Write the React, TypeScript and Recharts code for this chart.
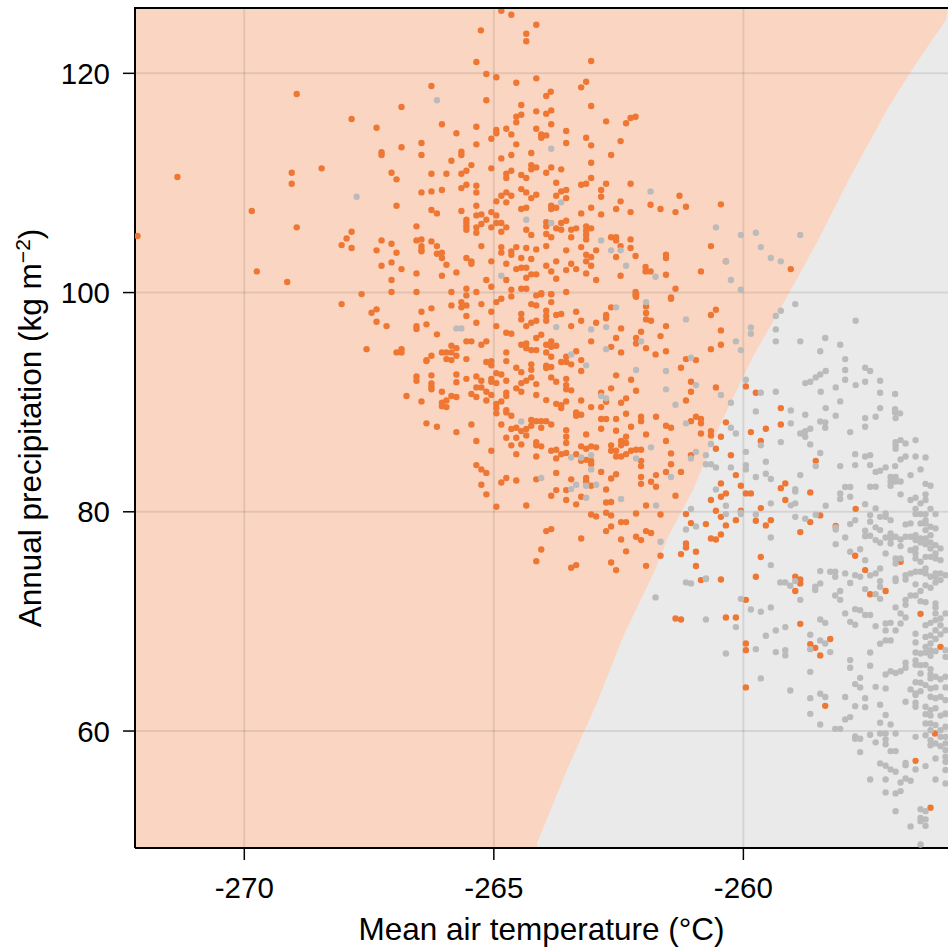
import React from "react"
import {
  ComposedChart,
  XAxis,
  YAxis,
  Scatter,
  Area,
  ReferenceLine,
  CartesianGrid,
} from "recharts"

// Temperature (°C) / precipitation (kg m-2) pairs

const xTicks = [-270, -265, -260]
const yTicks = [60, 80, 100, 120]
const xDomain: [number, number] = [-272.19, -255.9]
const yDomain: [number, number] = [49.33, 125.96]

// class boundary of the grey region (lower-right), read along its edge
const boundary: [number, number][] = [
  [-264.13, 49.8], [-263.53, 56.5], [-262.93, 62.6], [-262.41, 68.6], [-261.77, 74.7],
  [-261.51, 77.7], [-261.01, 81.99], [-260.45, 88.1], [-259.81, 94.12], [-259.05, 100.23],
  [-258.51, 104.7], [-257.84, 110.72], [-257.1, 116.83], [-256.56, 120.76], [-255.94, 124.86],
  [-255.9, 125.96],
]

const orangeNorthWest: [number, number][] = [
  [-268.95, 118.11], [-266.85, 116.93], [-267.85, 115.83], [-267.35, 115.04], [-266.85, 113.25],
  [-267.25, 112.8], [-267.25, 112.55], [-271.34, 110.54], [-269.05, 110.93], [-269.05, 109.93],
  [-268.45, 111.33], [-267.05, 110.93], [-266.95, 110.33], [-266.95, 107.92], [-269.85, 107.44],
  [-268.95, 105.95], [-272.14, 105.16], [-267.85, 105.55], [-267.95, 104.94], [-268.05, 104.33],
  [-267.85, 104.06], [-267.25, 104.76], [-267.05, 104.45], [-267.35, 103.85], [-266.95, 103.63],
  [-267.25, 102.44], [-267.05, 102.75], [-266.85, 102.14], [-269.75, 101.93], [-269.14, 100.96],
  [-267.65, 99.86], [-267.05, 101.14], [-267.05, 100.05], [-268.05, 98.95], [-267.35, 98.47],
  [-267.45, 98.16], [-267.35, 97.34], [-267.15, 96.94], [-267.55, 94.84], [-266.95, 94.54],
  [-266.85, 94.84], [-266.85, 94.54],
]

const orangeNorth: [number, number][] = [
  [-264.85, 125.71], [-264.65, 125.35], [-265.26, 123.92], [-264.35, 123.61], [-264.35, 122.92],
  [-264.15, 124.43], [-265.35, 121.03], [-263.05, 121.12], [-265.15, 119.94], [-264.95, 119.64],
  [-266.25, 118.84], [-264.55, 119.14], [-264.15, 119.54], [-263.25, 118.72], [-263.15, 119.23],
  [-263.95, 117.93], [-263.86, 118.32], [-265.15, 117.54], [-263.05, 117.02], [-264.45, 117.11],
  [-264.55, 116.04], [-264.45, 116.22], [-264.55, 115.53], [-264.15, 116.53], [-263.95, 116.31],
  [-263.85, 116.62], [-263.85, 115.35], [-264.15, 114.95], [-262.75, 115.62], [-262.35, 115.44],
  [-262.26, 115.92], [-262.16, 116.04], [-266.04, 115.35], [-265.35, 115.13], [-265.75, 114.53],
  [-264.95, 114.83], [-264.95, 114.53], [-264.75, 114.95], [-264.65, 114.43], [-265.05, 114.03],
  [-264.05, 114.43], [-264.05, 114.12], [-263.95, 114.34], [-263.55, 114.74], [-263.55, 113.64],
  [-263.15, 114.12], [-263.05, 113.43], [-262.46, 113.82], [-262.65, 112.55], [-266.45, 113.64],
  [-266.45, 112.55], [-265.35, 113.52], [-264.55, 113.52], [-265.65, 112.85], [-265.65, 112.55],
  [-265.85, 112.03], [-265.45, 111.63], [-264.85, 112.24], [-264.65, 112.55], [-264.25, 112.73],
  [-264.25, 111.63], [-264.15, 111.42], [-264.25, 111.24], [-263.95, 110.93], [-263.85, 111.42],
  [-263.65, 111.24], [-263.05, 111.84], [-266.25, 110.84], [-265.95, 110.84], [-265.65, 110.84],
  [-265.55, 111.11], [-265.05, 111.33], [-264.75, 110.84], [-264.75, 110.45], [-264.65, 111.11],
  [-264.45, 110.72], [-264.35, 110.45], [-263.75, 110.02], [-263.25, 109.84], [-263.15, 109.93],
  [-263.05, 110.45], [-262.75, 109.93], [-262.26, 109.93], [-266.45, 109.14], [-266.25, 109.23],
  [-266.04, 109.35], [-265.65, 109.53], [-265.55, 109.84], [-265.35, 109.74], [-265.35, 109.14],
  [-264.85, 108.83], [-264.75, 109.14], [-264.65, 108.83], [-264.95, 108.32], [-264.75, 108.23],
  [-264.45, 109.44], [-264.35, 109.14], [-264.25, 108.62], [-264.15, 108.92], [-263.75, 108.83],
  [-263.65, 109.23], [-263.55, 109.35], [-263.55, 108.62], [-262.85, 109.35], [-262.85, 108.74],
  [-262.46, 108.32], [-261.86, 108.01], [-261.66, 107.62], [-261.36, 107.34], [-261.28, 108.83],
  [-262.26, 107.34], [-262.85, 107.13], [-262.55, 107.62], [-263.05, 107.74], [-263.25, 107.22],
  [-266.25, 107.53], [-266.14, 107.22], [-265.65, 107.44], [-265.35, 107.92], [-265.35, 107.04],
  [-265.25, 107.13], [-265.05, 107.34], [-264.95, 107.04], [-264.45, 107.62], [-264.35, 107.74],
  [-263.85, 107.92], [-263.85, 107.62], [-263.75, 107.74], [-265.55, 106.64], [-265.55, 106.34],
  [-265.55, 106.04], [-265.55, 105.73], [-265.25, 106.25], [-265.15, 106.64], [-265.35, 105.95],
  [-265.35, 105.46], [-265.05, 105.95], [-264.95, 106.34], [-264.85, 106.34], [-264.85, 105.55],
  [-264.75, 105.95], [-264.35, 105.73], [-264.25, 105.25], [-263.95, 106.43], [-263.95, 106.04],
  [-263.95, 105.34], [-263.85, 105.04], [-263.75, 105.86], [-263.65, 105.73], [-263.65, 106.34],
  [-263.55, 106.55], [-263.45, 105.73], [-263.35, 105.86], [-263.15, 106.04], [-263.15, 105.64],
  [-263.15, 105.25], [-263.15, 104.85], [-263.05, 105.86], [-263.45, 105.04], [-262.65, 105.04],
  [-262.55, 105.04], [-262.55, 104.76], [-262.26, 104.85], [-262.55, 103.24], [-262.46, 104.24],
  [-262.26, 104.06], [-262.16, 103.33], [-262.46, 101.53], [-261.96, 102.33], [-261.96, 101.93],
  [-261.86, 101.93], [-261.55, 103.45], [-261.55, 103.15], [-261.55, 101.62], [-262.16, 100.05],
  [-262.16, 99.74], [-261.36, 100.35], [-262.95, 101.14], [-263.25, 104.15], [-263.15, 103.45],
  [-263.15, 102.85], [-263.05, 103.24], [-263.05, 102.44], [-262.95, 103.85], [-263.55, 103.85],
  [-263.55, 102.05], [-263.45, 102.63], [-263.35, 102.14], [-263.15, 101.75], [-263.75, 102.85],
  [-263.95, 104.24], [-263.95, 102.44], [-263.85, 101.93], [-263.75, 101.26], [-264.15, 103.94],
  [-264.25, 103.06], [-264.25, 101.66], [-264.15, 101.66], [-264.35, 104.06], [-264.45, 103.15],
  [-264.55, 104.15], [-264.55, 102.14], [-264.45, 102.27], [-264.35, 102.27], [-264.35, 101.35],
  [-264.65, 103.76], [-264.65, 103.45], [-264.75, 102.63], [-264.85, 104.15], [-264.85, 103.64],
  [-264.75, 101.14], [-265.05, 102.85], [-265.05, 100.53], [-265.15, 101.14], [-265.25, 104.24],
  [-265.55, 103.15], [-265.45, 102.85], [-265.45, 102.63], [-265.75, 101.84], [-266.04, 101.53],
  [-265.95, 102.54], [-266.14, 104.24], [-266.14, 103.54], [-266.04, 103.64], [-266.04, 103.15],
  [-266.25, 104.67], [-266.45, 104.24], [-266.45, 103.94], [-266.45, 103.76], [-266.55, 104.76],
  [-266.45, 104.85], [-266.55, 106.04], [-266.55, 101.75], [-266.55, 100.05], [-265.85, 100.05],
  [-265.55, 100.35], [-265.55, 99.74], [-265.35, 100.05], [-264.65, 100.26], [-264.65, 99.65],
  [-264.45, 100.35], [-264.35, 100.35], [-264.15, 99.74], [-264.05, 99.95], [-263.85, 99.86],
  [-263.55, 100.05], [-261.15, 107.83], [-260.45, 108.05], [-260.65, 104.24], [-259.05, 102.14],
  [-260.35, 102.85], [-260.85, 101.93], [-261.45, 99.56],
]

const orangeCentre: [number, number][] = [
  [-266.45, 98.25], [-266.25, 98.56], [-265.85, 98.83], [-265.65, 99.13], [-265.55, 98.83],
  [-265.65, 98.65], [-265.55, 97.86], [-265.25, 98.95], [-265.05, 98.25], [-264.95, 99.13],
  [-264.85, 99.44], [-266.55, 96.94], [-266.55, 96.67], [-266.35, 97.1], [-266.14, 96.19],
  [-265.35, 97.25], [-264.95, 96.94], [-264.75, 96.33], [-264.65, 96.24], [-264.45, 98.04],
  [-264.45, 97.55], [-264.35, 96.94], [-264.25, 97.25], [-264.15, 97.43], [-264.25, 98.95],
  [-264.15, 98.83], [-264.05, 99.84], [-263.85, 99.84], [-263.85, 99.13], [-263.95, 98.34],
  [-263.95, 97.86], [-263.95, 97.43], [-263.75, 97.95], [-263.65, 98.04], [-263.35, 98.25],
  [-263.25, 97.43], [-263.45, 96.94], [-262.95, 97.25], [-262.75, 97.95], [-262.75, 97.65],
  [-262.65, 98.65], [-262.45, 96.73], [-262.55, 95.85], [-263.05, 95.55], [-262.65, 95.05],
  [-262.45, 94.54], [-262.15, 99.84], [-262.15, 99.62], [-261.95, 98.74], [-261.95, 98.13],
  [-261.95, 97.55], [-261.85, 97.43], [-262.05, 96.42], [-262.15, 95.85], [-262.15, 95.36],
  [-261.95, 94.93], [-261.76, 94.36], [-261.55, 96.94], [-261.66, 96.03], [-261.55, 94.64],
  [-262.55, 92.45], [-262.25, 92.04], [-262.15, 91.04], [-262.35, 90.35], [-262.45, 89.95],
  [-262.85, 90.86], [-262.65, 91.26], [-262.75, 90.04], [-262.85, 89.55], [-263.05, 89.55],
  [-263.25, 90.16], [-263.55, 91.17], [-263.45, 91.08], [-263.55, 92.13], [-263.55, 91.56],
  [-263.65, 89.73], [-263.65, 89.46], [-263.75, 89.85], [-263.35, 89.07], [-263.25, 88.85],
  [-263.35, 88.76], [-263.55, 90.07], [-263.85, 92.26], [-263.75, 91.86], [-263.95, 93.33],
  [-263.85, 93.21], [-263.95, 93.12], [-264.15, 91.65], [-264.25, 92.26], [-264.25, 92.96],
  [-264.25, 93.45], [-264.45, 92.74], [-264.55, 93.14], [-264.45, 91.74], [-264.55, 91.26],
  [-264.45, 90.95], [-264.75, 91.95], [-264.75, 90.86], [-264.75, 90.56], [-264.95, 92.65],
  [-264.85, 92.53], [-265.05, 93.75], [-265.05, 93.36], [-265.15, 93.66], [-264.75, 93.75],
  [-264.75, 94.54], [-265.05, 92.13], [-264.95, 91.74], [-265.05, 91.86], [-265.15, 90.16],
  [-265.05, 90.65], [-264.95, 89.85], [-264.95, 89.46], [-264.85, 90.07], [-264.95, 88.98],
  [-264.75, 89.28], [-264.75, 89.07], [-264.65, 88.76], [-264.25, 88.37], [-264.15, 88.27],
  [-264.05, 88.27], [-263.95, 88.27], [-264.25, 87.85], [-264.05, 87.67], [-263.85, 87.97],
  [-264.85, 87.97], [-264.65, 87.55], [-264.55, 87.67], [-264.45, 87.36], [-264.35, 87.55],
  [-264.35, 86.97], [-264.45, 86.15], [-264.55, 86.75], [-264.65, 86.06], [-264.75, 86.75],
  [-264.55, 85.26], [-264.15, 86.36], [-264.15, 86.06], [-264.05, 85.97], [-264.15, 85.05],
  [-263.85, 85.57], [-263.75, 85.66], [-263.75, 84.87], [-263.65, 85.26], [-263.55, 85.36],
  [-263.35, 85.26], [-263.55, 86.27], [-263.55, 87.45], [-263.55, 86.85], [-263.15, 87.06],
  [-263.25, 85.97], [-263.15, 85.75], [-263.05, 85.97], [-262.95, 85.88], [-263.25, 84.65],
  [-263.15, 84.74], [-263.05, 84.65], [-263.05, 84.35], [-262.85, 88.46], [-262.75, 88.46],
  [-262.85, 87.57], [-262.55, 88.46], [-262.35, 88.94], [-262.25, 87.76], [-262.05, 88.67],
  [-262.05, 88.27], [-261.75, 88.67], [-261.55, 87.85], [-261.95, 87.06], [-262.35, 86.85],
  [-262.45, 86.46], [-262.45, 86.06], [-262.35, 86.27], [-262.65, 86.06], [-262.65, 85.57],
  [-262.55, 85.57], [-262.55, 85.05], [-262.45, 85.05], [-262.35, 85.26], [-262.25, 85.57],
  [-262.15, 85.66], [-262.05, 85.66], [-262.05, 84.65], [-262.05, 84.17], [-261.75, 83.35],
  [-261.55, 86.46], [-261.55, 83.64], [-261.36, 81.46], [-261.75, 82.29], [-261.85, 82.74],
  [-262.05, 83.17], [-262.05, 82.55], [-261.95, 80.58], [-261.66, 79.76], [-261.95, 78.24],
  [-261.85, 78.06], [-262.15, 77.72], [-262.05, 77.42], [-261.66, 75.99], [-262.15, 79.85],
  [-262.35, 79.06], [-262.45, 77.48], [-262.35, 76.39], [-262.65, 80.89], [-262.65, 79.67],
  [-262.65, 78.67], [-262.75, 79.91], [-262.75, 78.24], [-262.95, 79.58], [-263.05, 79.76],
  [-262.65, 75.38], [-262.55, 74.68], [-261.95, 75.07], [-262.75, 82.04], [-262.65, 83.04],
  [-262.55, 83.43], [-263.15, 83.08], [-263.15, 82.77], [-263.25, 81.37], [-263.45, 82.96],
  [-263.35, 80.68], [-263.55, 81.98], [-263.55, 81.07], [-263.75, 81.98], [-263.85, 81.46],
  [-263.75, 83.55], [-264.15, 82.96], [-264.35, 80.58], [-264.55, 82.86], [-264.75, 83.08],
  [-264.85, 82.68], [-264.95, 80.46], [-265.05, 85.57], [-265.25, 83.87], [-265.15, 83.55],
  [-265.35, 84.26], [-265.25, 82.47], [-265.15, 81.59], [-265.35, 86.46], [-265.45, 87.97],
  [-265.75, 87.27], [-266.14, 87.76], [-266.35, 88.07], [-266.45, 90.07], [-266.75, 90.56],
  [-266.04, 90.95], [-266.04, 89.95], [-266.04, 89.64], [-265.95, 90.16], [-265.95, 89.55],
  [-265.85, 90.56], [-265.75, 90.47], [-266.25, 92.45], [-266.25, 91.72], [-266.25, 91.41],
  [-266.25, 91.17], [-266.55, 92.35], [-266.55, 91.95], [-265.75, 92.53], [-265.75, 91.83],
  [-265.55, 92.13], [-265.35, 92.35], [-265.35, 91.35], [-265.25, 91.95], [-265.25, 91.35],
  [-265.45, 90.74], [-265.35, 90.47], [-265.15, 90.95], [-266.35, 93.84], [-266.25, 94.23],
  [-266.35, 93.75], [-266.04, 94.54], [-265.95, 94.54], [-265.85, 94.54], [-265.85, 93.84],
  [-265.95, 93.93], [-265.75, 94.93], [-265.75, 94.23], [-265.85, 95.15], [-265.55, 95.55],
  [-265.45, 95.55], [-265.55, 93.93], [-265.25, 95.24], [-265.15, 95.55], [-264.45, 95.24],
  [-264.35, 94.93], [-264.25, 94.75], [-264.15, 94.75], [-264.35, 95.36], [-264.15, 95.85],
  [-264.05, 96.15], [-263.95, 95.24], [-263.85, 95.55], [-263.75, 95.15], [-263.85, 95.05],
  [-263.95, 94.54], [-263.85, 94.14], [-263.65, 93.66], [-263.55, 94.14], [-263.55, 93.66],
  [-263.45, 93.45], [-263.35, 94.64], [-263.25, 93.84], [-263.25, 92.84], [-264.35, 91.95],
  [-263.95, 90.19], [-264.15, 90.65], [-262.55, 87.39], [-262.85, 83.64], [-263.05, 82.37],
  [-262.75, 80.85], [-262.45, 79.06], [-263.25, 77.57], [-263.35, 75.14], [-263.45, 74.9],
  [-263.95, 78.24], [-263.85, 78.42], [-264.05, 76.56], [-264.15, 75.5],
]

const orangeEast: [number, number][] = [
  [-261.45, 99.44], [-260.55, 98.43], [-260.65, 97.95], [-260.45, 96.55], [-260.45, 95.24],
  [-260.65, 94.84], [-261.15, 93.93], [-260.95, 93.84], [-261.25, 93.14], [-261.05, 91.86],
  [-261.05, 90.95], [-260.55, 91.35], [-259.95, 91.44], [-259.75, 90.86], [-261.15, 90.16],
  [-259.25, 89.46], [-260.95, 88.67], [-260.85, 88.46], [-260.85, 88.07], [-261.05, 88.27],
  [-261.45, 87.67], [-260.35, 88.16], [-260.85, 87.15], [-260.65, 87.36], [-260.65, 86.97],
  [-260.45, 86.85], [-259.25, 87.97], [-259.55, 87.57], [-259.85, 87.27], [-259.65, 86.46],
  [-261.45, 85.33], [-261.45, 84.34], [-261.25, 83.64], [-261.05, 85.17], [-260.55, 85.75],
  [-260.25, 85.17], [-258.55, 84.65], [-259.16, 82.59], [-259.25, 82.16], [-259.16, 81.07],
  [-259.65, 80.34], [-259.55, 78.76], [-259.45, 79.24], [-259.75, 79.18], [-260.05, 82.37],
  [-259.95, 81.68], [-259.85, 81.68], [-260.15, 83.35], [-260.45, 82.59], [-260.35, 81.68],
  [-260.45, 81.37], [-260.65, 81.07], [-260.55, 80.09], [-260.45, 79.54], [-260.05, 80.09],
  [-260.15, 79.24], [-260.35, 78.76], [-260.75, 78.88], [-261.05, 78.97], [-261.15, 79.79],
  [-260.45, 77.94], [-260.65, 77.57], [-260.55, 77.48], [-261.15, 77.11], [-261.15, 76.75],
  [-261.25, 76.14], [-260.95, 76.35], [-260.95, 75.05], [-259.65, 75.87], [-259.75, 74.07],
  [-258.96, 74.07], [-258.86, 73.83], [-260.45, 73.83], [-260.85, 73.77], [-257.75, 80.27],
  [-258.46, 79.67], [-258.66, 79.06], [-258.86, 78.15], [-257.76, 75.99], [-257.56, 74.68],
  [-258.66, 81.77], [-258.15, 78.7], [-256.85, 75.44], [-258.86, 73.47], [-258.96, 72.77],
  [-259.95, 71.97], [-261.36, 70.27], [-261.25, 70.18], [-260.35, 70.36], [-260.15, 70.36],
  [-258.86, 69.78], [-259.95, 67.99], [-259.95, 67.38], [-258.66, 67.93], [-258.56, 67.59],
  [-258.26, 68.39], [-258.46, 66.9], [-259.95, 63.98], [-258.36, 62.3], [-257.46, 72.48],
  [-257.15, 72.77], [-256.45, 70.69], [-256.05, 67.68], [-256.55, 57.28], [-256.25, 53.0],
  [-256.16, 59.78],
]

const greyWest: [number, number][] = [
  [-267.75, 108.74], [-266.14, 117.54], [-263.85, 113.12], [-263.65, 108.23], [-264.35, 106.64],
  [-263.85, 106.34], [-262.85, 104.76], [-262.65, 103.85], [-262.46, 103.85], [-262.35, 102.44],
  [-261.76, 101.44], [-264.85, 101.53], [-261.86, 109.23], [-260.55, 105.95], [-260.05, 105.25],
  [-259.75, 105.46], [-258.86, 105.25], [-259.65, 104.15], [-259.45, 103.15], [-259.25, 102.85],
  [-260.35, 102.85], [-260.25, 101.14], [-260.05, 100.26], [-263.75, 96.85], [-263.05, 96.64],
  [-262.55, 98.65], [-262.75, 96.85], [-262.75, 94.84], [-261.95, 99.13], [-262.05, 95.55],
  [-262.15, 92.93], [-261.55, 92.84], [-261.55, 91.17], [-262.85, 90.56], [-262.75, 90.35],
  [-264.45, 88.24], [-263.45, 84.96], [-263.25, 84.96], [-263.05, 85.17], [-263.05, 83.87],
  [-262.15, 84.87], [-261.85, 85.88], [-261.75, 80.58], [-261.66, 77.27], [-262.45, 81.17],
  [-262.95, 82.47], [-263.15, 82.37], [-263.15, 81.28], [-263.35, 82.47], [-263.45, 82.07],
  [-264.05, 83.08], [-265.75, 96.73], [-265.65, 96.73], [-263.45, 94.36], [-263.15, 93.36],
  [-261.76, 72.19],
]

const greyEast: [number, number][] = [
  [-261.15, 97.55], [-258.96, 98.95], [-259.25, 98.34], [-259.35, 97.86], [-257.75, 97.43],
  [-259.85, 96.82], [-259.85, 96.24], [-259.35, 96.64], [-259.35, 95.55], [-260.15, 95.55],
  [-260.05, 94.75], [-258.86, 95.55], [-258.36, 95.85], [-258.06, 95.24], [-258.46, 94.64],
  [-257.96, 93.93], [-261.05, 94.05], [-257.96, 92.93], [-257.96, 92.04], [-257.56, 93.14],
  [-257.46, 92.84], [-258.35, 92.84], [-258.46, 92.53], [-258.55, 92.26], [-258.66, 91.86],
  [-258.76, 91.74], [-259.95, 92.04], [-260.95, 91.56], [-260.45, 90.65], [-259.65, 90.86],
  [-259.35, 90.95], [-258.45, 90.95], [-258.15, 91.35], [-257.75, 91.56], [-257.56, 91.86],
  [-257.26, 91.95], [-257.26, 90.86], [-256.96, 90.74], [-258.06, 90.07], [-261.36, 89.76],
  [-260.25, 89.95], [-259.05, 89.25], [-258.35, 89.46], [-257.26, 89.46], [-256.96, 89.37],
  [-256.96, 89.07], [-256.86, 88.98], [-259.75, 89.16], [-258.76, 88.85], [-258.15, 88.76],
  [-257.56, 88.55], [-257.35, 88.67], [-256.95, 88.55], [-261.15, 88.07], [-260.25, 87.67],
  [-260.15, 87.15], [-259.05, 88.07], [-258.46, 88.24], [-258.36, 88.16], [-258.36, 87.67],
  [-258.76, 87.36], [-258.86, 87.15], [-258.76, 86.85], [-258.66, 87.57], [-257.86, 87.27],
  [-257.56, 87.76], [-259.65, 86.06], [-258.66, 86.15], [-259.25, 86.36], [-256.95, 86.36],
  [-256.95, 86.06], [-256.95, 85.75], [-256.85, 86.54], [-256.75, 86.24], [-256.55, 86.54],
  [-261.45, 83.17], [-261.05, 84.87], [-260.95, 85.47], [-260.75, 85.17], [-260.75, 84.34],
  [-260.65, 84.34], [-260.65, 86.18], [-260.25, 84.05], [-260.55, 84.05], [-259.95, 85.47],
  [-259.95, 84.26], [-259.95, 83.87], [-259.55, 84.56], [-258.55, 84.17], [-258.46, 85.36],
  [-258.06, 84.17], [-257.76, 84.26], [-257.76, 85.26], [-257.56, 85.05], [-257.46, 85.17],
  [-257.46, 84.26], [-257.35, 83.64], [-257.26, 83.74], [-257.15, 84.05], [-256.96, 84.17],
  [-256.85, 84.78], [-256.75, 85.05], [-256.55, 85.05], [-256.35, 84.96], [-256.95, 83.17],
  [-257.05, 83.17], [-257.05, 82.77], [-257.05, 82.37], [-256.95, 82.77], [-256.85, 82.77],
  [-256.65, 83.35], [-256.45, 83.87], [-256.35, 82.55], [-256.25, 82.37], [-256.85, 81.59],
  [-256.65, 81.07], [-256.55, 81.28], [-256.45, 80.77], [-256.35, 81.07], [-256.35, 81.59],
  [-256.55, 80.27], [-256.45, 79.79], [-256.35, 79.79], [-256.25, 80.27], [-256.15, 79.79],
  [-256.55, 79.79], [-256.35, 78.94], [-256.25, 78.63], [-256.15, 78.49], [-256.35, 78.33],
  [-256.25, 77.87], [-256.45, 77.57], [-256.35, 77.57], [-256.55, 77.42], [-256.45, 77.21],
  [-256.35, 77.05], [-256.25, 77.21], [-256.15, 76.96], [-256.25, 76.66], [-256.05, 76.66],
  [-256.15, 76.2], [-256.25, 75.89], [-256.55, 76.66], [-256.65, 76.5], [-256.55, 76.2],
  [-256.55, 75.75], [-256.45, 75.44], [-256.35, 75.89], [-256.15, 75.75], [-256.05, 75.59],
  [-256.35, 74.83], [-256.45, 74.53], [-256.55, 74.53], [-256.65, 74.38], [-256.75, 74.22],
  [-256.15, 74.38], [-256.05, 74.38], [-255.95, 74.22], [-256.25, 74.07], [-257.46, 82.29],
  [-257.35, 82.29], [-257.56, 80.7], [-257.35, 80.31], [-257.26, 79.54], [-257.15, 79.85],
  [-257.15, 79.54], [-257.05, 79.24], [-257.46, 79.7], [-257.46, 79.1], [-257.56, 78.27],
  [-257.56, 77.78], [-257.35, 78.58], [-257.26, 78.33], [-257.05, 78.03], [-257.05, 77.57],
  [-256.95, 77.72], [-256.85, 77.48], [-256.75, 78.85], [-256.65, 78.94], [-256.85, 76.87],
  [-256.95, 75.75], [-256.85, 75.75], [-256.95, 75.29], [-257.26, 74.83], [-257.15, 76.2],
  [-256.95, 73.92], [-256.75, 73.83], [-257.56, 75.59], [-257.66, 76.59], [-257.86, 76.35],
  [-257.66, 74.07], [-257.76, 74.22], [-257.96, 74.38], [-258.16, 74.53], [-258.16, 74.07],
  [-258.26, 74.53], [-258.46, 74.59], [-258.15, 77.05], [-258.15, 78.58], [-258.15, 78.39],
  [-257.96, 77.66], [-257.86, 78.88], [-257.76, 79.24], [-257.46, 77.81], [-257.35, 77.42],
  [-257.26, 77.17], [-257.15, 77.66], [-257.05, 77.11], [-260.05, 79.91], [-260.55, 82.04],
  [-260.35, 80.55], [-260.35, 79.79], [-260.05, 79.79], [-259.75, 83.17], [-259.55, 83.47],
  [-259.45, 82.99], [-258.96, 82.07], [-258.96, 81.86], [-258.86, 83.35], [-259.45, 80.77],
  [-259.05, 80.59], [-258.96, 80.77], [-259.75, 79.76], [-258.96, 79.54], [-258.76, 79.36],
  [-258.55, 79.73], [-258.35, 80.55], [-258.06, 81.68], [-258.06, 81.17], [-257.86, 82.26],
  [-257.96, 82.26], [-257.86, 81.37], [-259.45, 77.66], [-261.15, 78.39], [-260.95, 78.67],
  [-261.05, 80.27], [-260.75, 73.92], [-259.45, 75.14], [-256.75, 77.72], [-256.65, 77.72],
  [-256.55, 77.87], [-256.45, 78.94], [-256.35, 79.24],
]

const greySouth: [number, number][] = [
  [-261.15, 73.56], [-261.05, 73.47], [-260.75, 73.86], [-260.05, 72.06], [-259.85, 71.09],
  [-259.65, 70.88], [-259.45, 71.28], [-260.75, 70.18], [-260.15, 69.48], [-259.55, 68.69],
  [-259.35, 69.18], [-259.16, 69.48], [-260.35, 67.08], [-259.75, 67.47], [-259.35, 67.2],
  [-259.16, 67.38], [-259.16, 66.9], [-259.65, 64.8], [-259.06, 63.7], [-259.26, 73.56],
  [-259.16, 73.56], [-259.06, 73.25], [-258.96, 73.68], [-258.86, 71.97], [-258.56, 73.16],
  [-258.56, 72.86], [-258.46, 73.47], [-258.66, 68.78], [-258.66, 67.47], [-258.46, 70.18],
  [-258.36, 69.87], [-258.46, 68.27], [-258.36, 67.99], [-258.26, 67.2], [-258.66, 65.4],
  [-258.66, 63.0], [-258.66, 61.57], [-258.46, 63.4], [-258.36, 63.1], [-258.46, 60.6],
  [-258.16, 72.37], [-258.06, 72.77], [-258.06, 71.97], [-257.76, 69.69], [-257.86, 66.47],
  [-257.86, 65.77], [-257.66, 64.85], [-257.76, 64.28], [-257.66, 63.98], [-257.96, 63.1],
  [-257.86, 61.27], [-257.96, 61.06], [-258.06, 60.2], [-258.16, 60.2], [-257.76, 62.27],
  [-257.56, 63.0], [-257.56, 62.18], [-257.76, 59.51], [-257.66, 59.29], [-257.76, 59.29],
  [-257.66, 58.08], [-257.46, 67.17], [-257.46, 65.95], [-257.35, 69.57], [-257.46, 70.58],
  [-257.56, 70.58], [-257.26, 67.96], [-257.15, 69.82], [-257.15, 69.18], [-257.15, 68.27],
  [-257.05, 69.87], [-257.05, 68.27], [-256.95, 69.18], [-256.85, 69.82], [-256.85, 70.73],
  [-256.75, 71.97], [-256.75, 71.51], [-256.75, 70.36], [-256.65, 72.37], [-256.95, 71.28],
  [-257.26, 72.06], [-257.26, 73.16], [-257.26, 73.68], [-257.56, 72.95], [-257.35, 72.49],
  [-256.95, 73.68], [-256.35, 74.38], [-256.55, 73.38], [-256.45, 72.77], [-256.35, 73.29],
  [-256.25, 73.07], [-256.15, 73.56], [-256.15, 74.07], [-256.05, 73.77], [-256.45, 71.85],
  [-256.55, 72.37], [-256.35, 71.76], [-256.15, 71.64], [-256.15, 71.28], [-256.15, 70.73],
  [-256.05, 70.27], [-256.35, 69.66], [-256.25, 69.87], [-256.15, 69.2], [-256.05, 69.66],
  [-256.55, 68.87], [-256.55, 68.08], [-256.35, 68.59], [-256.25, 68.72], [-256.15, 68.39],
  [-256.05, 68.82], [-256.55, 67.17], [-256.45, 67.08], [-256.35, 67.17], [-256.25, 66.86],
  [-256.15, 67.29], [-255.95, 67.38], [-256.75, 66.23], [-256.55, 66.44], [-256.55, 66.04],
  [-256.75, 65.77], [-257.05, 65.45], [-256.95, 65.3], [-256.85, 65.45], [-257.15, 65.16],
  [-257.15, 63.89], [-257.35, 64.03], [-256.35, 66.04], [-256.25, 65.65], [-256.25, 65.16],
  [-256.15, 64.95], [-256.05, 64.73], [-256.25, 64.8], [-256.65, 63.8], [-256.55, 63.43],
  [-256.55, 63.28], [-256.35, 64.19], [-256.25, 63.89], [-256.15, 63.98], [-256.05, 63.13],
  [-255.95, 63.98], [-256.75, 62.67], [-256.55, 62.58], [-256.55, 62.22], [-256.25, 63.13],
  [-256.15, 62.99], [-256.15, 62.08], [-256.05, 61.41], [-255.95, 61.56], [-256.25, 61.41],
  [-257.26, 62.4], [-257.15, 61.46], [-257.26, 60.76], [-257.05, 60.6], [-257.15, 59.78],
  [-257.26, 59.78], [-256.95, 59.78], [-257.46, 59.66], [-257.35, 58.97], [-257.15, 59.24],
  [-257.15, 58.79], [-257.05, 58.17], [-256.95, 58.17], [-256.55, 59.47], [-256.35, 59.62],
  [-256.25, 59.17], [-256.25, 58.71], [-256.15, 58.87], [-256.05, 58.62], [-255.95, 58.26],
  [-256.15, 57.5], [-255.95, 57.19], [-257.26, 57.05], [-257.15, 56.83], [-257.05, 56.5],
  [-256.95, 56.28], [-256.75, 57.1], [-256.75, 56.89], [-256.55, 56.5], [-256.35, 56.8],
  [-257.46, 55.58], [-257.15, 55.58], [-256.85, 55.31], [-256.65, 55.46], [-256.75, 55.67],
  [-256.15, 55.58], [-257.15, 54.4], [-256.95, 54.31], [-256.85, 54.52], [-256.95, 52.69],
  [-256.45, 52.87], [-256.35, 52.69], [-256.45, 52.08], [-256.45, 51.78], [-256.35, 51.94],
  [-256.35, 51.35], [-256.65, 51.3], [-256.45, 49.65], [-255.95, 70.73], [-255.95, 69.2],
  [-255.95, 66.77], [-255.95, 64.95], [-255.95, 62.82], [-255.95, 61.6], [-255.95, 60.39],
  [-255.95, 59.47], [-255.95, 58.87], [-255.95, 57.65], [-255.95, 56.44], [-255.95, 55.22],
  [-256.25, 61.91], [-256.25, 60.69], [-256.15, 60.54], [-256.05, 60.08], [-256.05, 59.47],
  [-256.25, 60.08], [-256.35, 60.69], [-256.35, 61.54], [-256.35, 62.22], [-256.45, 64.4],
  [-256.45, 63.64], [-256.45, 65.25], [-256.55, 64.45], [-256.45, 66.01], [-256.25, 67.99],
  [-256.25, 67.38], [-256.35, 67.68], [-256.15, 70.12], [-257.86, 73.5], [-257.46, 74.2],
  [-257.35, 74.38], [-257.96, 70.73], [-257.76, 71.12], [-257.66, 71.03], [-257.86, 69.96],
]

const ORANGE = "#EE7733"
const GREY = "#BBBBBB"
const FONT = "'Liberation Sans', Arial, Helvetica, sans-serif"

const toRows = (pts: [number, number][]) => pts.map(([t, p]) => ({ t, p }))

const orangeData = toRows([...orangeNorthWest, ...orangeNorth, ...orangeCentre, ...orangeEast])
const greyData = toRows([...greyWest, ...greyEast, ...greySouth])
const boundaryData = toRows(boundary)

const dot = (fill: string) => (props: any) =>
  <circle cx={props.cx} cy={props.cy} r={3.2} fill={fill} />

function XTitle(props: any) {
  const vb = props.viewBox
  return (
    <text x={vb.x + vb.width / 2} y={vb.y + 92} textAnchor="middle" fontSize={31.5} fill="#000" fontFamily={FONT}>
      Mean air temperature (°C)
    </text>
  )
}

function YTitle(props: any) {
  const vb = props.viewBox
  const cx = vb.x + 41
  const cy = vb.y + vb.height / 2
  return (
    <text x={cx} y={cy} textAnchor="middle" fontSize={31.5} fill="#000" fontFamily={FONT} transform={`rotate(-90 ${cx} ${cy})`}>
      Annual precipitation (kg m
      <tspan dy={-11} fontSize={21}>−2</tspan>
      <tspan dy={11}>)</tspan>
    </text>
  )
}

export default function App() {
  const tickStyle = { fill: "#000", fontSize: 29.5, fontFamily: FONT }
  return (
    <div style={{ position: "absolute", left: 0, top: 0, width: 948, height: 949, fontFamily: FONT }}>
      <ComposedChart width={948} height={949} margin={{ top: 8, right: 0, bottom: 0, left: 0 }}>
        <CartesianGrid horizontal={false} vertical={false} fill="#FAD6C2" />
        <XAxis
          dataKey="t"
          type="number"
          domain={xDomain}
          allowDataOverflow
          ticks={xTicks}
          height={101}
          tick={tickStyle}
          tickSize={12}
          tickMargin={17}
          tickLine={{ stroke: "#000", strokeWidth: 1.5 }}
          axisLine={{ stroke: "#000", strokeWidth: 2 }}
          label={XTitle}
        />
        <YAxis
          dataKey="p"
          type="number"
          domain={yDomain}
          allowDataOverflow
          ticks={yTicks}
          width={135}
          tick={tickStyle}
          tickSize={12}
          tickMargin={13}
          tickLine={{ stroke: "#000", strokeWidth: 1.5 }}
          axisLine={{ stroke: "#000", strokeWidth: 2 }}
          label={YTitle}
        />
        <Area
          data={boundaryData}
          dataKey="p"
          type="linear"
          stroke="none"
          fill="#EAEAEA"
          fillOpacity={1}
          baseValue="dataMin"
          isAnimationActive={false}
        />
        {xTicks.map((v) => (
          <ReferenceLine key={`gx${v}`} x={v} stroke="rgba(0,0,0,0.09)" strokeWidth={2} />
        ))}
        {yTicks.map((v) => (
          <ReferenceLine key={`gy${v}`} y={v} stroke="rgba(0,0,0,0.09)" strokeWidth={2} />
        ))}
        <Scatter data={orangeData} fill={ORANGE} shape={dot(ORANGE)} isAnimationActive={false} />
        <Scatter data={greyData} fill={GREY} shape={dot(GREY)} isAnimationActive={false} />
      </ComposedChart>
      {/* top edge of the plot frame */}
      <div style={{ position: "absolute", left: 134, top: 7, width: 814, height: 2, background: "#000" }} />
    </div>
  )
}
